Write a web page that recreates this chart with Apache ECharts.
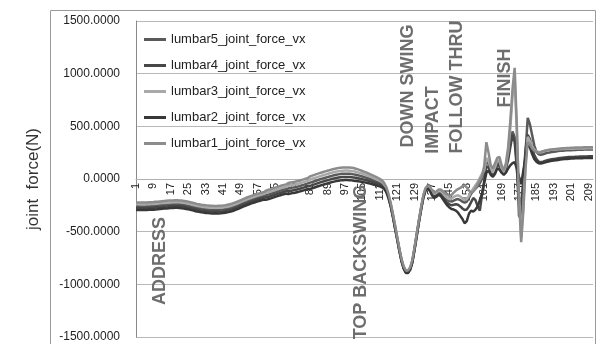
<!DOCTYPE html>
<html>
<head>
<meta charset="utf-8">
<script src="https://cdn.jsdelivr.net/npm/echarts@6/dist/echarts.min.js"></script>
<style>
  html, body { margin: 0; padding: 0; background: #fff; }
  #chart { width: 597px; height: 344px; }
</style>
</head>
<body>
<div id="chart"></div>
<script>
// frame numbers 1..211 on the x axis
var frames = [];
for (var f = 1; f <= 211; f++) frames.push(String(f));

var seriesNames = ['lumbar5_joint_force_vx', 'lumbar4_joint_force_vx', 'lumbar3_joint_force_vx',
                   'lumbar2_joint_force_vx', 'lumbar1_joint_force_vx'];

var lumbar5 = [
  -258,-258,-259,-259,-259,-258,-257,-256,-255,-253,
  -251,-249,-247,-245,-243,-241,-240,-239,-238,-238,
  -239,-241,-244,-248,-252,-257,-262,-267,-272,-276,
  -280,-283,-286,-288,-290,-291,-292,-292,-291,-290,
  -288,-285,-281,-276,-270,-263,-255,-247,-238,-229,
  -220,-212,-204,-196,-189,-182,-176,-170,-164,-158,
  -152,-146,-140,-133,-126,-119,-112,-106,-100,-95,
  -90,-86,-82,-78,-73,-68,-62,-56,-49,-42,
  -35,-28,-21,-14,-7,0,6,12,18,24,
  30,35,40,44,47,49,50,50,49,47,
  44,40,35,30,24,18,12,5,-2,-10,
  -18,-26,-34,-45,-65,-100,-160,-240,-340,-450,
  -560,-670,-770,-840,-880,-880,-850,-780,-660,-530,
  -400,-280,-170,-100,-75,-90,-130,-155,-145,-125,
  -130,-150,-175,-195,-210,-215,-205,-195,-190,-200,
  -215,-225,-215,-180,-140,-110,-90,-70,-40,0,
  60,180,140,80,50,100,160,150,90,70,
  120,220,380,450,400,150,-350,-380,-50,250,
  580,520,420,320,260,235,230,235,242,248,
  252,256,259,262,265,267,269,271,272,273,
  274,275,276,277,278,278,279,279,280,280,280
];
var lumbar4 = [
  -276,-276,-277,-277,-277,-276,-275,-274,-273,-271,
  -269,-267,-265,-263,-261,-259,-258,-257,-256,-256,
  -257,-259,-262,-266,-270,-275,-280,-285,-290,-294,
  -298,-301,-304,-306,-308,-309,-310,-310,-309,-308,
  -306,-303,-299,-294,-288,-281,-273,-265,-256,-247,
  -238,-230,-222,-214,-207,-200,-194,-188,-182,-176,
  -174,-168,-162,-155,-148,-141,-134,-128,-122,-117,
  -116,-112,-108,-104,-99,-94,-88,-82,-75,-68,
  -65,-58,-51,-44,-37,-30,-24,-18,-12,-6,
  0,5,10,14,17,19,20,20,19,17,
  14,11,7,3,-2,-7,-12,-18,-24,-31,
  -38,-45,-52,-61,-79,-112,-170,-248,-348,-458,
  -566,-676,-776,-846,-886,-886,-856,-786,-666,-536,
  -405,-286,-176,-106,-82,-100,-142,-168,-158,-138,
  -145,-170,-200,-225,-240,-250,-245,-240,-245,-260,
  -280,-295,-290,-260,-220,-180,-200,-260,-300,-150,
  -20,120,110,60,30,70,140,120,70,50,
  100,180,300,420,350,100,-200,-250,0,280,
  420,380,300,230,190,165,160,165,172,178,
  183,187,190,193,196,199,202,204,206,208,
  209,210,211,212,213,213,214,214,215,215,215
];
var lumbar3 = [
  -240,-240,-241,-241,-241,-240,-239,-238,-237,-235,
  -233,-231,-229,-227,-225,-223,-222,-221,-220,-220,
  -221,-223,-226,-230,-234,-239,-244,-249,-254,-258,
  -262,-265,-268,-270,-272,-273,-274,-274,-273,-272,
  -270,-267,-263,-258,-252,-245,-237,-229,-220,-211,
  -202,-194,-186,-178,-171,-164,-158,-152,-146,-140,
  -130,-124,-118,-111,-104,-97,-90,-84,-78,-73,
  -64,-60,-56,-52,-47,-42,-36,-30,-23,-16,
  -5,2,9,16,23,30,36,42,48,54,
  60,65,70,74,77,79,80,80,79,77,
  74,69,63,57,50,43,36,28,20,11,
  2,-7,-17,-29,-51,-88,-150,-232,-332,-442,
  -554,-664,-764,-834,-874,-874,-844,-774,-654,-524,
  -395,-274,-164,-94,-68,-80,-118,-142,-132,-112,
  -115,-135,-160,-180,-190,-185,-170,-160,-155,-165,
  -185,-200,-190,-160,-120,-90,-60,-30,10,50,
  80,200,170,110,60,110,180,170,100,60,
  130,260,480,780,960,450,-150,-560,-250,150,
  400,360,310,280,265,255,258,263,268,272,
  275,277,279,281,282,283,284,285,286,287,
  288,288,289,289,290,290,290,291,291,291,291
];
var lumbar2 = [
  -294,-294,-295,-295,-295,-294,-293,-292,-291,-289,
  -287,-285,-283,-281,-279,-277,-276,-275,-274,-274,
  -275,-277,-280,-284,-288,-293,-298,-303,-308,-312,
  -316,-319,-322,-324,-326,-327,-328,-328,-327,-326,
  -324,-321,-317,-312,-306,-299,-291,-283,-274,-265,
  -256,-248,-240,-232,-225,-218,-212,-206,-200,-194,
  -196,-190,-184,-177,-170,-163,-156,-150,-144,-139,
  -142,-138,-134,-130,-125,-120,-114,-108,-101,-94,
  -95,-88,-81,-74,-67,-60,-54,-48,-42,-36,
  -30,-25,-20,-16,-13,-11,-10,-10,-11,-13,
  -16,-18,-21,-24,-28,-32,-36,-41,-46,-52,
  -58,-64,-69,-77,-93,-124,-180,-257,-355,-465,
  -572,-682,-782,-852,-892,-892,-862,-792,-672,-542,
  -410,-292,-182,-112,-88,-110,-155,-180,-170,-150,
  -160,-190,-220,-250,-270,-285,-290,-300,-320,-350,
  -380,-420,-400,-330,-300,-310,-290,-260,-200,-140,
  -40,60,80,40,20,50,100,90,60,40,
  60,100,130,150,160,100,20,-50,80,200,
  340,300,240,190,165,150,148,152,158,164,
  168,172,175,178,181,184,187,189,191,193,
  194,195,196,197,198,198,199,199,200,200,200
];
var lumbar1 = [
  -222,-222,-223,-223,-223,-222,-221,-220,-219,-217,
  -215,-213,-211,-209,-207,-205,-204,-203,-202,-202,
  -203,-205,-208,-212,-216,-221,-226,-231,-236,-240,
  -244,-247,-250,-252,-254,-255,-256,-256,-255,-254,
  -252,-249,-245,-240,-234,-227,-219,-211,-202,-193,
  -184,-176,-168,-160,-153,-146,-140,-134,-128,-122,
  -108,-102,-96,-89,-82,-75,-68,-62,-56,-51,
  -38,-34,-30,-26,-21,-16,-10,-4,3,10,
  25,32,39,46,53,60,66,72,78,84,
  90,95,100,104,107,109,110,110,109,107,
  104,98,91,84,76,68,60,51,42,32,
  22,12,1,-13,-37,-76,-140,-223,-325,-435,
  -548,-658,-758,-828,-868,-868,-838,-768,-648,-518,
  -390,-268,-158,-88,-62,-70,-105,-130,-120,-100,
  -100,-115,-135,-150,-160,-150,-130,-110,-95,-85,
  -70,-60,-80,-110,-130,-120,-90,-50,-10,30,
  120,350,250,130,100,150,200,210,130,80,
  150,300,550,850,1055,500,-200,-600,-300,100,
  350,330,290,270,260,250,255,262,268,273,
  277,280,283,286,288,290,292,293,294,295,
  296,297,298,299,300,300,301,301,302,302,302
];

var seriesData = [lumbar5, lumbar4, lumbar3, lumbar2, lumbar1];
var seriesColors = ['#5a5a5a', '#474747', '#a9a9a9', '#383838', '#8c8c8c'];

// swing phase labels: [text, centre x, centre y]
var phases = [
  ['ADDRESS', 160, 261],
  ['TOP BACKSWING', 361, 262],
  ['DOWN SWING', 408, 86],
  ['IMPACT', 433, 120],
  ['FOLLOW THRU', 457, 87],
  ['FINISH', 505, 78]
];

var chart = echarts.init(document.getElementById('chart'));

var series = [];
for (var s = 0; s < seriesNames.length; s++) {
  series.push({
    name: seriesNames[s],
    type: 'line',
    data: seriesData[s],
    showSymbol: false,
    lineStyle: { width: 2.5, color: seriesColors[s] },
    itemStyle: { color: seriesColors[s] },
    z: 3
  });
}

var graphics = [{
  type: 'rect',
  shape: { x: 50.5, y: 10.5, width: 545, height: 340 },
  style: { fill: 'none', stroke: '#9a9a9a', lineWidth: 1 },
  z: -10
}];
phases.forEach(function (p) {
  graphics.push({
    type: 'text',
    x: p[1], y: p[2],
    rotation: Math.PI / 2,
    z: 1,
    style: {
      text: p[0],
      font: 'bold 18px "Liberation Sans", Arial, sans-serif',
      fill: '#6e6e6e',
      align: 'center', verticalAlign: 'middle',
      textAlign: 'center', textVerticalAlign: 'middle'
    }
  });
});

var option = {
  backgroundColor: '#fff',
  animation: false,
  grid: { left: 136, right: 4, top: 21, bottom: 7, outerBoundsMode: 'none', containLabel: false },
  legend: {
    orient: 'vertical',
    left: 139,
    top: 28,
    itemWidth: 22,
    itemHeight: 3,
    itemGap: 13,
    icon: 'rect',
    textStyle: { fontSize: 13, color: '#222', fontFamily: '"Liberation Sans", Arial, sans-serif' },
    data: seriesNames
  },
  xAxis: {
    type: 'category',
    data: frames,
    boundaryGap: false,
    // put the axis (and its labels) on the zero line
    offset: -158,
    axisLine: { onZero: false, lineStyle: { color: '#b0b0b0' } },
    axisTick: { show: false },
    axisLabel: {
      interval: 7,
      rotate: 90,
      margin: 4,
      fontSize: 11,
      color: '#222',
      fontFamily: '"Liberation Sans", Arial, sans-serif'
    },
    splitLine: { show: false }
  },
  yAxis: {
    type: 'value',
    min: -1500,
    max: 1500,
    interval: 500,
    name: 'joint  force(N)',
    nameLocation: 'middle',
    nameGap: 94,
    nameTextStyle: { fontSize: 17, color: '#333', fontFamily: '"Liberation Sans", Arial, sans-serif' },
    axisLine: { show: true, lineStyle: { color: '#8a8a8a' } },
    axisTick: { show: false },
    axisLabel: {
      margin: 16,
      fontSize: 12,
      color: '#222',
      fontFamily: '"Liberation Sans", Arial, sans-serif',
      formatter: function (v) { return v.toFixed(4); }
    },
    splitLine: { lineStyle: { color: '#b8b8b8', width: 1 } }
  },
  graphic: graphics,
  series: series
};

chart.setOption(option);
</script>
</body>
</html>
